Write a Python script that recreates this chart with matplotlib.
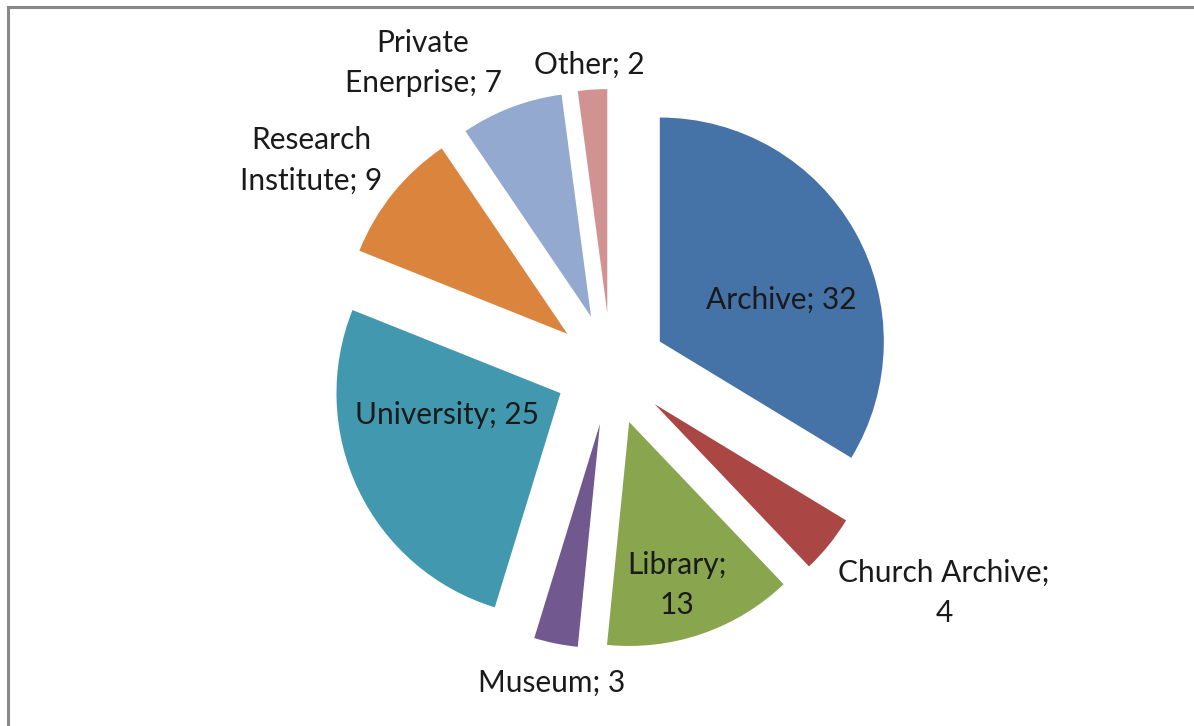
import matplotlib
matplotlib.use("Agg")
import matplotlib.pyplot as plt
from matplotlib.patches import Rectangle

categories = ["Archive", "Church Archive", "Library", "Museum", "University",
              "Research Institute", "Private Enerprise", "Other"]
values = [32, 4, 13, 3, 25, 9, 7, 2]
colors = ["#4572A7", "#AA4643", "#89A54E", "#71588F", "#4198AF",
          "#DB843D", "#93A9CF", "#D19392"]
label_texts = ["Archive; 32", "Church Archive;\n4", "Library;\n13", "Museum; 3",
               "University; 25", "Research\nInstitute; 9", "Private\nEnerprise; 7", "Other; 2"]

W, H = 1194, 726
fig = plt.figure(figsize=(W / 100, H / 100), dpi=100)
fig.patch.set_facecolor("white")

# frame (only top/left edges visible in reference)
fig.patches.append(Rectangle((8 / W, -0.05), 1.2, (H - 7) / H + 0.05,
                             transform=fig.transFigure, fill=False,
                             edgecolor="#888888", linewidth=2.2))

ax = fig.add_axes([0, 0, 1, 1])
R = 224.0
cx, cy = 611.0, 369.0
ax.pie(values, colors=colors, startangle=90, counterclock=False,
       explode=[0.25] * len(values), radius=1.0,
       wedgeprops=dict(linewidth=0))
ax.set_xlim(-cx / R, (W - cx) / R)
ax.set_ylim(-(H - cy) / R, cy / R)
ax.set_aspect("auto")
ax.axis("off")

# label positions in pixels (centre of text block)
label_pos = [(781, 300), (944, 593), (677, 585), (552, 683),
             (447, 415), (311, 160), (423, 63), (589, 65)]
for txt, (px, py) in zip(label_texts, label_pos):
    ax.text((px - cx) / R, (cy - py) / R, txt, ha="center", va="center",
            fontsize=21.5, family=["Lato", "DejaVu Sans"], color="#1a1a1a",
            linespacing=1.55)

fig.savefig("out.png", dpi=100)
